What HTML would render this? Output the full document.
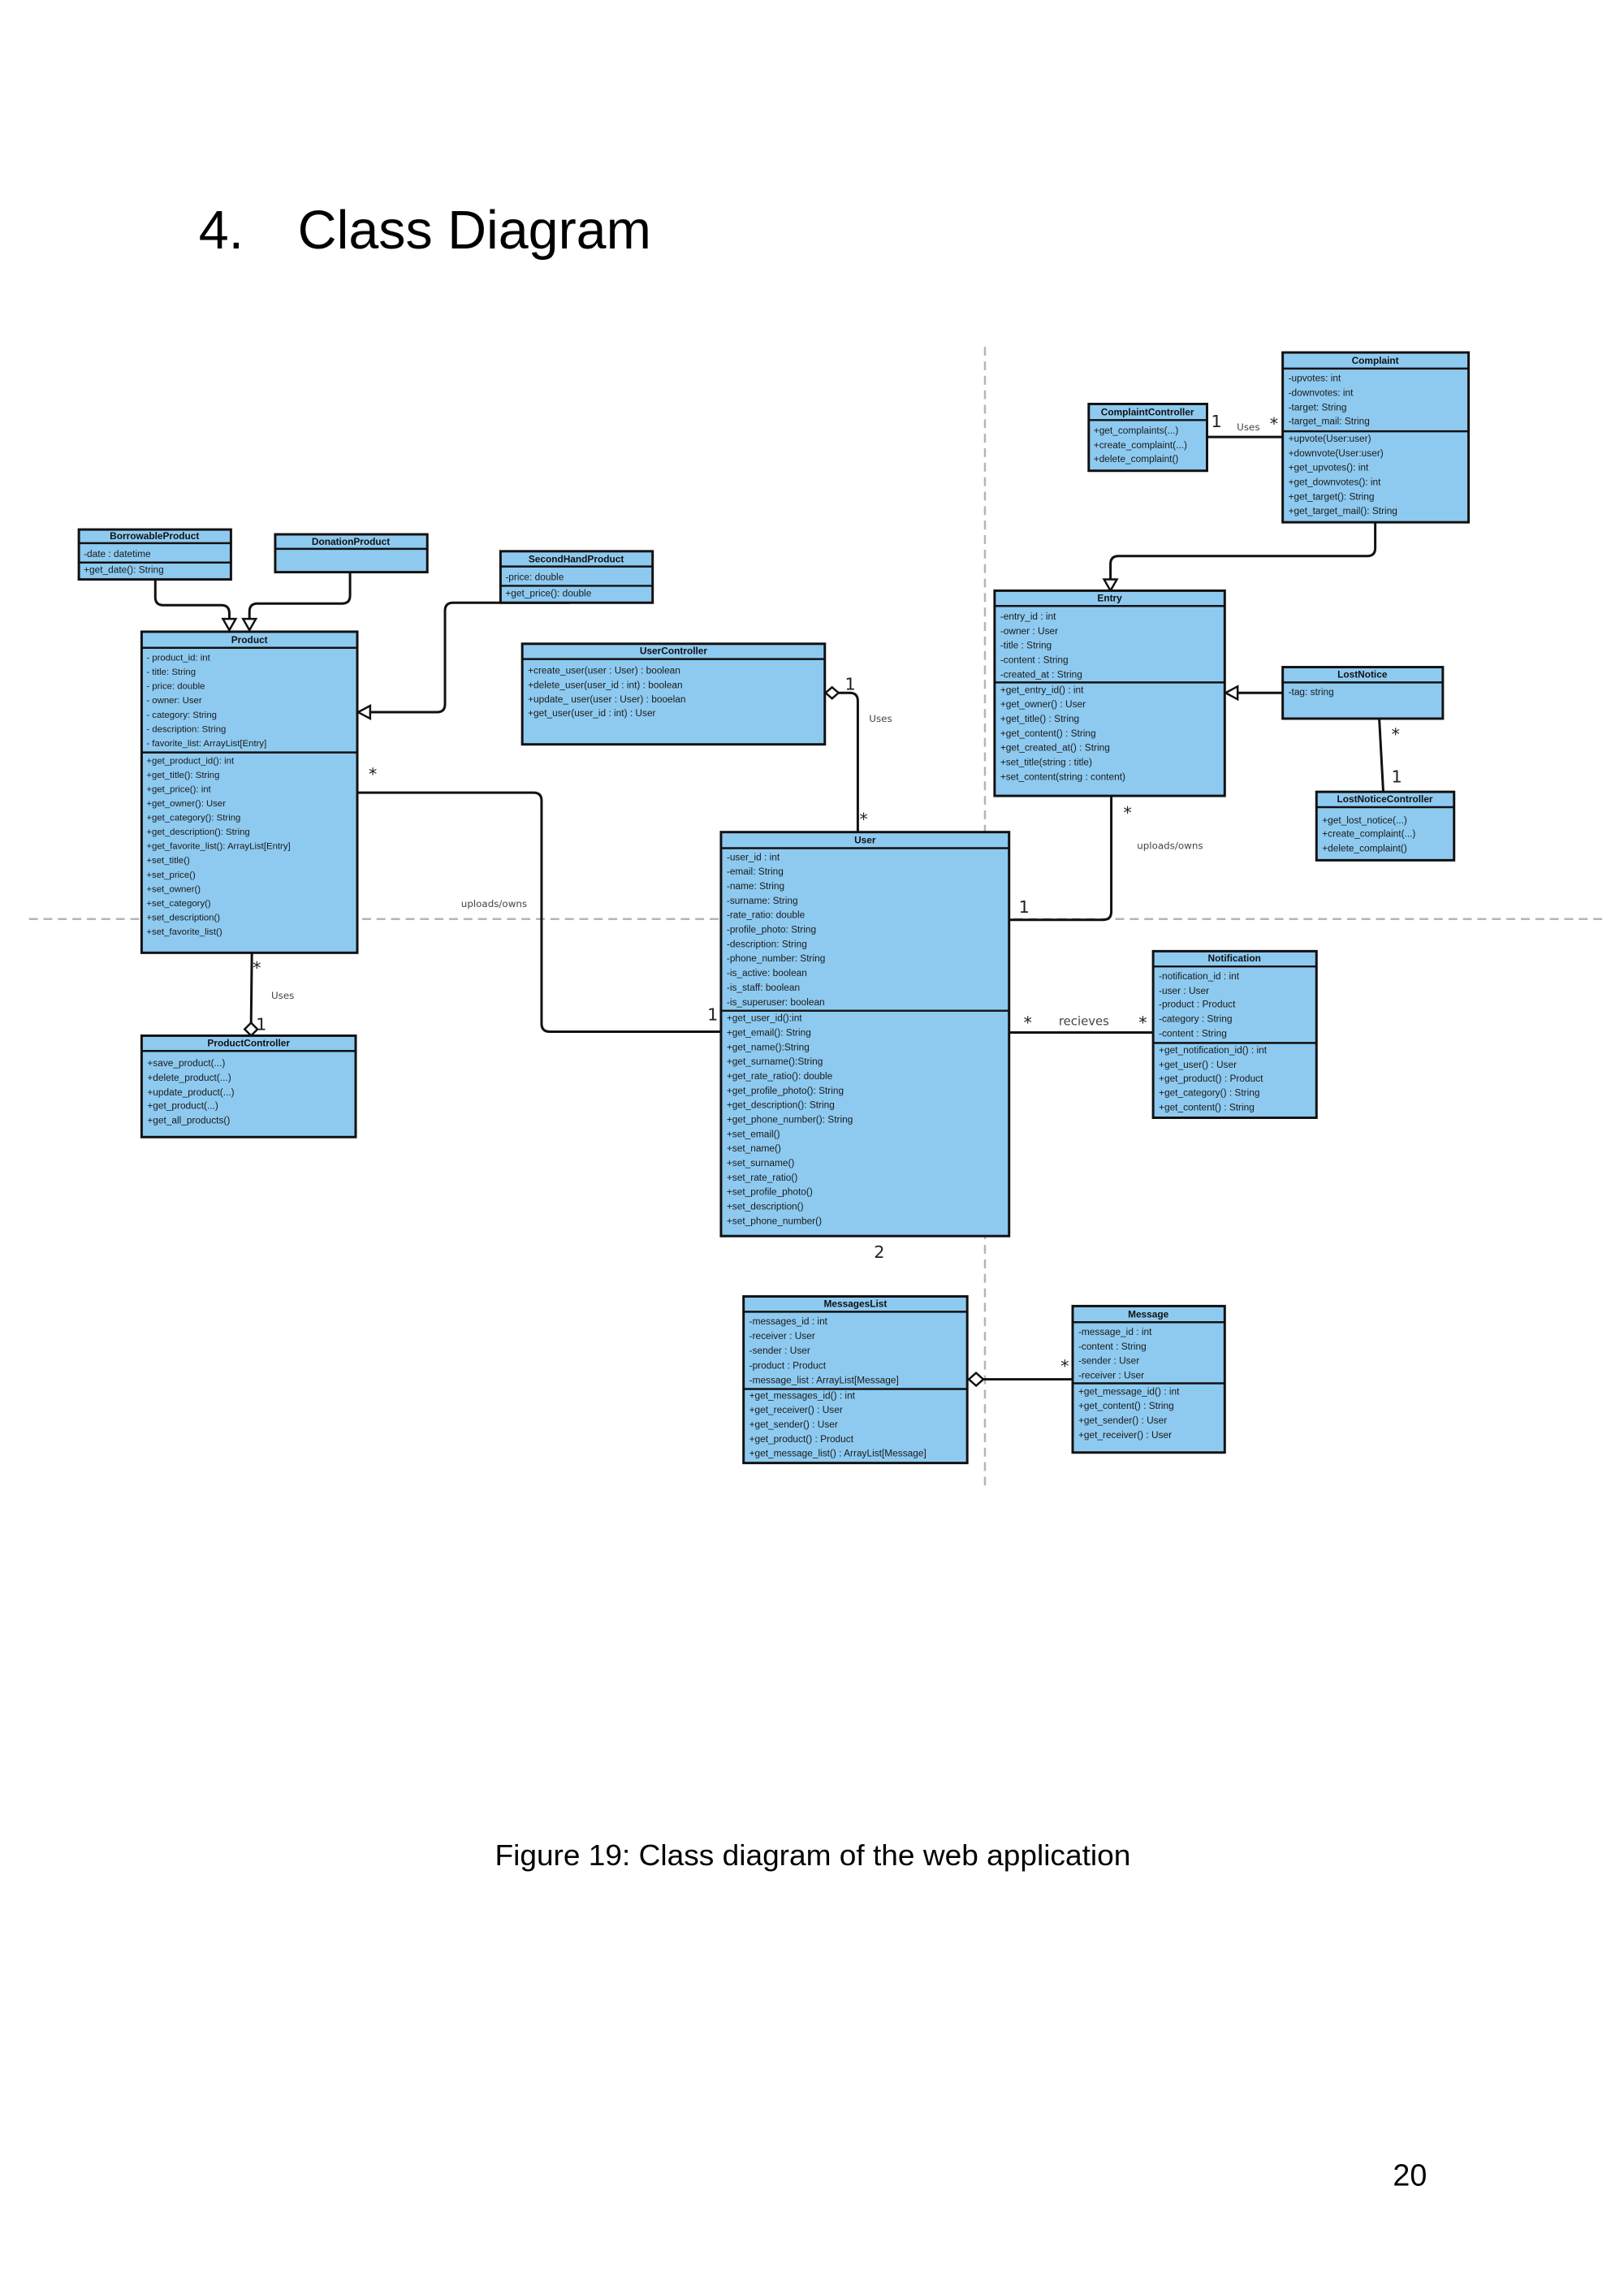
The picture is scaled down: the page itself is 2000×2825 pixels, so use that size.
<!DOCTYPE html>
<html><head><meta charset="utf-8"><style>
html,body{margin:0;padding:0;background:#fff;}
svg{display:block;}
.b{fill:#8ecaf0;stroke:#111;stroke-width:3;}
.d{stroke:#111;stroke-width:2.5;}
.t{font-family:"Liberation Sans",Arial,sans-serif;font-size:12px;fill:#1a1a1a;}
.h{font-family:"Liberation Sans",Arial,sans-serif;font-size:12px;font-weight:bold;fill:#111;text-anchor:middle;}
.c{fill:none;stroke:#111;stroke-width:3;stroke-linejoin:round;}
.m{font-family:"DejaVu Sans","Liberation Sans",sans-serif;font-size:21px;fill:#222;}
.s{font-family:"DejaVu Sans","Liberation Sans",sans-serif;font-size:12px;fill:#444;}
.dash{stroke:#b5b5b5;stroke-width:2.5;stroke-dasharray:11 7;fill:none;}
</style></head><body>
<svg width="2000" height="2825" viewBox="0 0 2000 2825" xmlns="http://www.w3.org/2000/svg">
<rect width="2000" height="2825" fill="#fff"/>
<g transform="scale(0.991)">
<text x="247" y="309" font-family="Liberation Sans,Arial,sans-serif" font-size="67" fill="#000">4.</text>
<text x="370" y="309" font-family="Liberation Sans,Arial,sans-serif" font-size="67" fill="#000">Class Diagram</text>

<path class="dash" d="M36 1142 H1995"/>
<path class="dash" d="M1224 431 V1849"/>

<path class="c" d="M193 720 V742 Q193 752 203 752 H275 Q285 752 285 762 V770"/>
<polygon points="277,769 293,769 285,783" fill="#fff" stroke="#111" stroke-width="2.5"/>
<path class="c" d="M435 711 V740 Q435 750 425 750 H320 Q310 750 310 760 V770"/>
<polygon points="302,769 318,769 310,783" fill="#fff" stroke="#111" stroke-width="2.5"/>
<path class="c" d="M708 749 H563 Q553 749 553 759 V875 Q553 885 543 885 H460"/>
<polygon points="460,877 460,893 445,885" fill="#fff" stroke="#111" stroke-width="2.5"/>
<path class="c" d="M444 985 H663 Q673 985 673 995 V1272 Q673 1282 683 1282 H896"/>
<path class="c" d="M1042 861 H1056 Q1066 861 1066 871 V1034"/>
<polygon points="1026,861 1034,854 1042,861 1034,868" fill="#fff" stroke="#111" stroke-width="2.5"/>
<path class="c" d="M1254 1143 H1371 Q1381 1143 1381 1133 V989"/>
<path class="c" d="M1254 1283 H1433"/>
<path class="c" d="M1500 543 H1594"/>
<path class="c" d="M1709 649 V681 Q1709 691 1699 691 H1390 Q1380 691 1380 701 V720"/>
<polygon points="1372,720 1388,720 1380,734" fill="#fff" stroke="#111" stroke-width="2.5"/>
<path class="c" d="M1594 861 H1538"/>
<polygon points="1538,853 1538,869 1523,861" fill="#fff" stroke="#111" stroke-width="2.5"/>
<path class="c" d="M1714 893 L1719 984"/>
<path class="c" d="M313 1184 L312 1272"/>
<polygon points="312,1271 320,1279 312,1287 304,1279" fill="#fff" stroke="#111" stroke-width="2.5"/>
<path class="c" d="M1222 1714 H1333"/>
<polygon points="1204,1714 1213,1706 1222,1714 1213,1722" fill="#fff" stroke="#111" stroke-width="2.5"/>

<text class="m" x="458" y="969">*</text>
<text class="s" x="614" y="1127" text-anchor="middle">uploads/owns</text>
<text class="m" x="879" y="1268">1</text>
<text class="m" x="1050" y="857">1</text>
<text class="s" x="1080" y="897">Uses</text>
<text class="m" x="1068" y="1025">*</text>
<text class="m" x="1266" y="1134">1</text>
<text class="m" x="1396" y="1017">*</text>
<text class="s" x="1454" y="1055" text-anchor="middle">uploads/owns</text>
<text class="m" x="1272" y="1278">*</text>
<text class="s" x="1347" y="1274" text-anchor="middle" style="font-size:15px">recieves</text>
<text class="m" x="1415" y="1278">*</text>
<text class="m" x="1505" y="531">1</text>
<text class="s" x="1537" y="535">Uses</text>
<text class="m" x="1578" y="534">*</text>
<text class="m" x="1729" y="920">*</text>
<text class="m" x="1729" y="972">1</text>
<text class="m" x="314" y="1210">*</text>
<text class="s" x="337" y="1241">Uses</text>
<text class="m" x="318" y="1280">1</text>
<text class="m" x="1086" y="1563">2</text>
<text class="m" x="1318" y="1705">*</text>

<rect class="b" x="98" y="658" width="189" height="62"/>
<line class="d" x1="98" y1="675" x2="287" y2="675"/><line class="d" x1="98" y1="699" x2="287" y2="699"/>
<text class="h" x="192" y="670">BorrowableProduct</text>
<text class="t" x="104" y="692">-date : datetime</text>
<text class="t" x="104" y="712">+get_date(): String</text>

<rect class="b" x="342" y="664" width="189" height="47"/>
<line class="d" x1="342" y1="682" x2="531" y2="682"/>
<text class="h" x="436" y="677">DonationProduct</text>

<rect class="b" x="622" y="685" width="189" height="64"/>
<line class="d" x1="622" y1="704" x2="811" y2="704"/><line class="d" x1="622" y1="728" x2="811" y2="728"/>
<text class="h" x="716" y="699">SecondHandProduct</text>
<text class="t" x="628" y="721">-price: double</text>
<text class="t" x="628" y="741">+get_price(): double</text>

<rect class="b" x="176" y="785" width="268" height="399"/>
<line class="d" x1="176" y1="805" x2="444" y2="805"/><line class="d" x1="176" y1="935" x2="444" y2="935"/>
<text class="h" x="310" y="799">Product</text>
<g class="t" style="font-size:11.5px">
<text x="182" y="821">- product_id: int</text>
<text x="182" y="838.7">- title: String</text>
<text x="182" y="856.4">- price: double</text>
<text x="182" y="874.1">- owner: User</text>
<text x="182" y="891.8">- category: String</text>
<text x="182" y="909.5">- description: String</text>
<text x="182" y="927.2">- favorite_list: ArrayList[Entry]</text>
<text x="182" y="949">+get_product_id(): int</text>
<text x="182" y="966.7">+get_title(): String</text>
<text x="182" y="984.4">+get_price(): int</text>
<text x="182" y="1002.1">+get_owner(): User</text>
<text x="182" y="1019.8">+get_category(): String</text>
<text x="182" y="1037.5">+get_description(): String</text>
<text x="182" y="1055.2">+get_favorite_list(): ArrayList[Entry]</text>
<text x="182" y="1072.9">+set_title()</text>
<text x="182" y="1090.6">+set_price()</text>
<text x="182" y="1108.3">+set_owner()</text>
<text x="182" y="1126">+set_category()</text>
<text x="182" y="1143.7">+set_description()</text>
<text x="182" y="1161.4">+set_favorite_list()</text>
</g>

<rect class="b" x="649" y="800" width="376" height="125"/>
<line class="d" x1="649" y1="819" x2="1025" y2="819"/>
<text class="h" x="837" y="813">UserController</text>
<g class="t">
<text x="656" y="837">+create_user(user : User) : boolean</text>
<text x="656" y="855">+delete_user(user_id : int) : boolean</text>
<text x="656" y="873">+update_ user(user : User)  : booelan</text>
<text x="656" y="890">+get_user(user_id : int) : User</text>
</g>

<rect class="b" x="896" y="1034" width="358" height="502"/>
<line class="d" x1="896" y1="1054" x2="1254" y2="1054"/><line class="d" x1="896" y1="1256" x2="1254" y2="1256"/>
<text class="h" x="1075" y="1048">User</text>
<g class="t">
<text x="903" y="1069">-user_id : int</text>
<text x="903" y="1087">-email: String</text>
<text x="903" y="1105">-name: String</text>
<text x="903" y="1123">-surname: String</text>
<text x="903" y="1141">-rate_ratio: double</text>
<text x="903" y="1159">-profile_photo: String</text>
<text x="903" y="1177">-description: String</text>
<text x="903" y="1195">-phone_number: String</text>
<text x="903" y="1213">-is_active: boolean</text>
<text x="903" y="1231">-is_staff: boolean</text>
<text x="903" y="1249">-is_superuser: boolean</text>
<text x="903" y="1269">+get_user_id():int</text>
<text x="903" y="1287">+get_email(): String</text>
<text x="903" y="1305">+get_name():String</text>
<text x="903" y="1323">+get_surname():String</text>
<text x="903" y="1341">+get_rate_ratio(): double</text>
<text x="903" y="1359">+get_profile_photo(): String</text>
<text x="903" y="1377">+get_description(): String</text>
<text x="903" y="1395">+get_phone_number(): String</text>
<text x="903" y="1413">+set_email()</text>
<text x="903" y="1431">+set_name()</text>
<text x="903" y="1449">+set_surname()</text>
<text x="903" y="1467">+set_rate_ratio()</text>
<text x="903" y="1485">+set_profile_photo()</text>
<text x="903" y="1503">+set_description()</text>
<text x="903" y="1521">+set_phone_number()</text>
</g>

<rect class="b" x="1353" y="502" width="147" height="83"/>
<line class="d" x1="1353" y1="522" x2="1500" y2="522"/>
<text class="h" x="1426" y="516">ComplaintController</text>
<g class="t"><text x="1359" y="539">+get_complaints(...)</text><text x="1359" y="557">+create_complaint(...)</text><text x="1359" y="574">+delete_complaint()</text></g>

<rect class="b" x="1594" y="438" width="231" height="211"/>
<line class="d" x1="1594" y1="458" x2="1825" y2="458"/><line class="d" x1="1594" y1="536" x2="1825" y2="536"/>
<text class="h" x="1709" y="452">Complaint</text>
<g class="t">
<text x="1601" y="474">-upvotes: int</text><text x="1601" y="492">-downvotes: int</text><text x="1601" y="510">-target: String</text><text x="1601" y="527">-target_mail: String</text>
<text x="1601" y="549">+upvote(User:user)</text><text x="1601" y="567">+downvote(User:user)</text><text x="1601" y="585">+get_upvotes(): int</text><text x="1601" y="603">+get_downvotes(): int</text><text x="1601" y="621">+get_target(): String</text><text x="1601" y="639">+get_target_mail(): String</text>
</g>

<rect class="b" x="1236" y="734" width="286" height="255"/>
<line class="d" x1="1236" y1="753" x2="1522" y2="753"/><line class="d" x1="1236" y1="848" x2="1522" y2="848"/>
<text class="h" x="1379" y="747">Entry</text>
<g class="t">
<text x="1243" y="770">-entry_id : int</text><text x="1243" y="788">-owner : User</text><text x="1243" y="806">-title : String</text><text x="1243" y="824">-content : String</text><text x="1243" y="842">-created_at : String</text>
<text x="1243" y="861">+get_entry_id() : int</text><text x="1243" y="879">+get_owner() : User</text><text x="1243" y="897">+get_title() : String</text><text x="1243" y="915">+get_content() : String</text><text x="1243" y="933">+get_created_at() : String</text><text x="1243" y="951">+set_title(string : title)</text><text x="1243" y="969">+set_content(string : content)</text>
</g>

<rect class="b" x="1594" y="829" width="199" height="64"/>
<line class="d" x1="1594" y1="848" x2="1793" y2="848"/>
<text class="h" x="1693" y="842">LostNotice</text>
<text class="t" x="1601" y="864">-tag: string</text>

<rect class="b" x="1636" y="984" width="171" height="85"/>
<line class="d" x1="1636" y1="1003" x2="1807" y2="1003"/>
<text class="h" x="1721" y="997">LostNoticeController</text>
<g class="t"><text x="1643" y="1023">+get_lost_notice(...)</text><text x="1643" y="1040">+create_complaint(...)</text><text x="1643" y="1058">+delete_complaint()</text></g>

<rect class="b" x="1433" y="1182" width="203" height="207"/>
<line class="d" x1="1433" y1="1201" x2="1636" y2="1201"/><line class="d" x1="1433" y1="1296" x2="1636" y2="1296"/>
<text class="h" x="1534" y="1195">Notification</text>
<g class="t">
<text x="1440" y="1217">-notification_id : int</text><text x="1440" y="1235">-user : User</text><text x="1440" y="1252">-product : Product</text><text x="1440" y="1270">-category : String</text><text x="1440" y="1288">-content : String</text>
<text x="1440" y="1309">+get_notification_id() : int</text><text x="1440" y="1327">+get_user() : User</text><text x="1440" y="1344">+get_product() : Product</text><text x="1440" y="1362">+get_category() : String</text><text x="1440" y="1380">+get_content() : String</text>
</g>

<rect class="b" x="176" y="1287" width="266" height="126"/>
<line class="d" x1="176" y1="1306" x2="442" y2="1306"/>
<text class="h" x="309" y="1300">ProductController</text>
<g class="t"><text x="183" y="1325">+save_product(...)</text><text x="183" y="1343">+delete_product(...)</text><text x="183" y="1361">+update_product(...)</text><text x="183" y="1378">+get_product(...)</text><text x="183" y="1396">+get_all_products()</text></g>

<rect class="b" x="924" y="1611" width="278" height="207"/>
<line class="d" x1="924" y1="1630" x2="1202" y2="1630"/><line class="d" x1="924" y1="1726" x2="1202" y2="1726"/>
<text class="h" x="1063" y="1624">MessagesList</text>
<g class="t">
<text x="931" y="1646">-messages_id : int</text><text x="931" y="1664">-receiver : User</text><text x="931" y="1682">-sender : User</text><text x="931" y="1701">-product : Product</text><text x="931" y="1719">-message_list : ArrayList[Message]</text>
<text x="931" y="1738">+get_messages_id() : int</text><text x="931" y="1756">+get_receiver() : User</text><text x="931" y="1774">+get_sender() : User</text><text x="931" y="1792">+get_product() : Product</text><text x="931" y="1810">+get_message_list() : ArrayList[Message]</text>
</g>

<rect class="b" x="1333" y="1623" width="189" height="182"/>
<line class="d" x1="1333" y1="1643" x2="1522" y2="1643"/><line class="d" x1="1333" y1="1719" x2="1522" y2="1719"/>
<text class="h" x="1427" y="1637">Message</text>
<g class="t">
<text x="1340" y="1659">-message_id : int</text><text x="1340" y="1677">-content : String</text><text x="1340" y="1695">-sender : User</text><text x="1340" y="1713">-receiver : User</text>
<text x="1340" y="1733">+get_message_id() : int</text><text x="1340" y="1751">+get_content() : String</text><text x="1340" y="1769">+get_sender() : User</text><text x="1340" y="1787">+get_receiver() : User</text>
</g>

<text x="615" y="2318" font-family="Liberation Sans,Arial,sans-serif" font-size="36" fill="#000" textLength="790" lengthAdjust="spacingAndGlyphs">Figure 19: Class diagram of the web application</text>
<text x="1731" y="2716" font-family="Liberation Sans,Arial,sans-serif" font-size="38" fill="#000">20</text>
</g>
</svg>
</body></html>
